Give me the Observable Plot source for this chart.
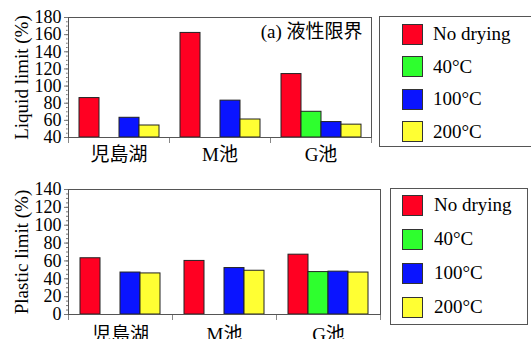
<!DOCTYPE html>
<html>
<head>
<meta charset="utf-8">
<script src="https://cdn.jsdelivr.net/npm/d3@7"></script>
<script src="https://cdn.jsdelivr.net/npm/@observablehq/plot@0.6"></script>
<style>
  html, body { margin: 0; padding: 0; background: #fff; overflow: hidden; }
  #root { position: relative; width: 531px; height: 339px; overflow: hidden;
          font-family: "Liberation Serif", "Noto Sans CJK JP", serif; }
  #root svg, #root svg text { font-family: "Liberation Serif", "Noto Sans CJK JP", serif !important; }
  .panel { position: absolute; left: 0; }
  .legend { position: absolute; border: 1px solid #555; box-sizing: border-box; background: #fff; }
  .item { position: absolute; display: flex; align-items: center; font-size: 19px; color: #000; white-space: nowrap; }
  .sw { width: 21px; height: 21px; box-sizing: border-box; border: 1px solid #333; }
</style>
</head>
<body>
<div id="root"></div>
<script>
// ---- data ----
const categories = ["児島湖", "M池", "G池"];
const series = ["No drying", "40°C", "100°C", "200°C"];
const colors = ["#ff0022", "#2eff2e", "#0a14ff", "#ffff33"];
// values per category, in series order (null = not measured)
const liquidLimit = [
  [86, null, 63, 54],
  [162, null, 83, 61],
  [114, 70, 58, 55]
];
const plasticLimit = [
  [63, null, 47, 46],
  [60, null, 52, 49],
  [67, 47.5, 48, 47]
];
const liquidTicks = d3.range(40, 181, 20);
const liquidMinor = d3.range(40, 181, 5);
const plasticTicks = d3.range(0, 141, 20);
const plasticMinor = d3.range(0, 141, 5);
const annotation = "(a) 液性限界";

const font = '"Liberation Serif", "Noto Sans CJK JP", serif';

function rows(values) {
  const out = [];
  categories.forEach((c, i) => series.forEach((s, j) => {
    if (values[i][j] != null) out.push({cat: c, series: s, value: values[i][j]});
  }));
  return out;
}

function panel({values, ticks, minor, label, width, height, marginLeft, marginRight, marginTop, marginBottom, note, fxPad}) {
  const innerH = height - marginTop - marginBottom;
  const facetW = (width - marginLeft - marginRight) / categories.length;
  const y0 = ticks[0];
  const marks = [
    Plot.barY(rows(values), {fx: "cat", x: "series", y1: y0, y2: "value", fill: "series", stroke: "#222", strokeWidth: 1}),
    // minor ticks: short, outside the frame on the left (first facet only)
    Plot.tickY(minor, {y: d => d, fx: () => categories[0], insetLeft: -2, insetRight: facetW, stroke: "#777"}),
    Plot.axisY(ticks, {tickSize: 4, tickPadding: 3, fontSize: 18, label: null, stroke: "#777", fill: "#000"}),
    Plot.axisY({ticks: [], tickSize: 0, label, labelAnchor: "center", labelArrow: "none", labelOffset: 54, fill: "#000"}),
    Plot.axisFx({anchor: "bottom", tickSize: 0, tickPadding: fxPad, label: null, fill: "#000"}),
    Plot.frame({anchor: "left", insetTop: innerH, insetBottom: -5, stroke: "#888"}),
    Plot.frame({anchor: "right", insetTop: innerH, insetBottom: -5, stroke: "#888"}),
    Plot.frame({facet: "super", stroke: "#555"})
  ];
  if (note) marks.push(Plot.text([note], {frameAnchor: "top-right", dx: -9, dy: 7, lineAnchor: "top", textAnchor: "end", facet: "super", fill: "#000"}));
  return Plot.plot({
    width, height, marginLeft, marginRight, marginTop, marginBottom,
    style: {fontFamily: font, fontSize: "19px", background: "transparent", color: "#000", overflow: "visible"},
    fx: {domain: categories, padding: 0, axis: null, label: null},
    x: {domain: series, paddingInner: 0, paddingOuter: 0.5, axis: null},
    y: {domain: [ticks[0], ticks[ticks.length - 1]], axis: null, label: null},
    color: {domain: series, range: colors},
    marks
  });
}

function legend({left, top, width, height, swLeft, textGap, first, step}) {
  const box = document.createElement("div");
  box.className = "legend";
  Object.assign(box.style, {left: left + "px", top: top + "px", width: width + "px", height: height + "px"});
  series.forEach((s, i) => {
    const it = document.createElement("div");
    it.className = "item";
    Object.assign(it.style, {left: swLeft + "px", top: (first + i * step - 12) + "px", height: "24px"});
    const sw = document.createElement("div");
    sw.className = "sw";
    sw.style.background = colors[i];
    const tx = document.createElement("span");
    tx.textContent = s;
    tx.style.marginLeft = textGap + "px";
    it.append(sw, tx);
    box.append(it);
  });
  return box;
}

const root = document.getElementById("root");

const top1 = panel({values: liquidLimit, ticks: liquidTicks, minor: liquidMinor, label: "Liquid limit (%)",
  width: 380, height: 170, marginLeft: 67, marginRight: 9, marginTop: 17, marginBottom: 33, note: annotation, fxPad: 10});
top1.classList.add("panel");
top1.style.top = "0px";
root.append(top1);

const bot = panel({values: plasticLimit, ticks: plasticTicks, minor: plasticMinor, label: "Plastic limit (%)",
  width: 385, height: 190, marginLeft: 68, marginRight: 5, marginTop: 19, marginBottom: 46, fxPad: 13});
bot.classList.add("panel");
bot.style.top = "170px";
root.append(bot);

root.append(legend({left: 379, top: 16, width: 170, height: 131, swLeft: 22, textGap: 10, first: 17, step: 32.5}));
root.append(legend({left: 390, top: 188, width: 138, height: 137, swLeft: 11, textGap: 11, first: 16, step: 34}));
</script>
</body>
</html>
